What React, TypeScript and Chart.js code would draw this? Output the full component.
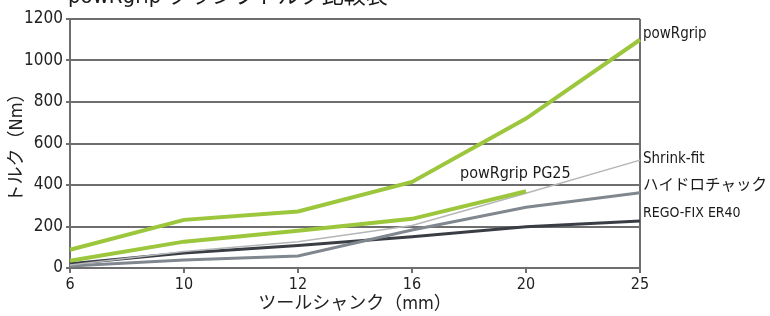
import React, { useEffect, useRef } from "react";
import { Chart, registerables } from "chart.js";

Chart.register(...registerables);

const categories = ["6", "10", "12", "16", "20", "25"];
const powRgrip = [88, 232, 272, 415, 720, 1100];
const powRgripPG25 = [35, 127, 180, 237, 370, null];
const shrinkFit = [15, 80, 127, 205, 360, 520];
const hydro = [10, 38, 58, 183, 293, 363];
const regoFix = [20, 72, 108, 151, 199, 226];
const seriesLabels = ["powRgrip", "powRgrip PG25", "Shrink-fit", "ハイドロチャック", "REGO-FIX ER40"];
const chartTitle = "powRgrip クランプトルク比較表";
const xTitle = "ツールシャンク（mm）";
const yTitle = "トルク（Nm）";

const FONT = "'Liberation Sans Narrow', 'DejaVu Sans Condensed', 'Noto Sans CJK JP', sans-serif";
const GRID = "#6e6e6e";

const labelPlugin = {
  id: "endLabels",
  afterDatasetsDraw(chart: any) {
    const { ctx } = chart;
    ctx.save();
    ctx.fillStyle = "#1a1a1a";
    ctx.textBaseline = "middle";
    ctx.textAlign = "left";
    const place = (dsIndex: number, idx: number, dx: number, dy: number, size: number) => {
      const el = chart.getDatasetMeta(dsIndex).data[idx];
      if (!el) return;
      ctx.font = `${size}px ${FONT}`;
      ctx.fillText(seriesLabels[dsIndex], el.x + dx, el.y + dy);
    };
    place(0, 5, 3, -6, 15);
    place(1, 4, -66, -17, 16);
    place(2, 5, 3, -1, 15);
    place(3, 5, 3, -7, 15.5);
    place(4, 5, 3, -8, 14);
    ctx.font = `22px ${FONT}`;
    ctx.textBaseline = "alphabetic";
    ctx.fillText(chartTitle, 68, 3);
    ctx.restore();
  },
};

export default function App() {
  const ref = useRef<HTMLCanvasElement | null>(null);
  useEffect(() => {
    document.body.style.margin = "0";
    const canvas = ref.current;
    if (!canvas) return;
    const chart = new Chart(canvas, {
      type: "line",
      data: {
        labels: categories,
        datasets: [
          { label: seriesLabels[0], data: powRgrip, borderColor: "#9cc63c", borderWidth: 4, pointRadius: 0, tension: 0 },
          { label: seriesLabels[1], data: powRgripPG25, borderColor: "#9cc63c", borderWidth: 4, pointRadius: 0, tension: 0 },
          { label: seriesLabels[2], data: shrinkFit, borderColor: "#b4b6b8", borderWidth: 1.5, pointRadius: 0, tension: 0 },
          { label: seriesLabels[3], data: hydro, borderColor: "#80878e", borderWidth: 3, pointRadius: 0, tension: 0 },
          { label: seriesLabels[4], data: regoFix, borderColor: "#3a3e44", borderWidth: 3, pointRadius: 0, tension: 0 },
        ],
      },
      options: {
        responsive: false,
        animation: false,
        layout: { padding: { top: 19, right: 130, left: 0, bottom: 0 } },
        plugins: { legend: { display: false }, tooltip: { enabled: false }, title: { display: false } },
        scales: {
          x: {
            type: "category",
            offset: false,
            afterFit: (s: any) => { s.height = 48; },
            grid: {
              color: (c: any) => (c.index === categories.length - 1 ? GRID : "rgba(0,0,0,0)"),
              tickColor: GRID,
              tickLength: 5,
              lineWidth: 2,
            },
            border: { color: GRID, width: 2 },
            ticks: { color: "#222", font: { family: FONT, size: 16 }, padding: 2, maxRotation: 0 },
            title: { display: true, text: xTitle, color: "#222", font: { family: FONT, size: 18 }, padding: { top: 0, bottom: 1 } },
          },
          y: {
            min: 0,
            max: 1200,
            afterFit: (s: any) => { s.width = 70; },
            grid: { color: GRID, lineWidth: 2, tickColor: GRID, tickLength: 4 },
            border: { color: GRID, width: 2 },
            ticks: {
              stepSize: 200,
              color: "#222",
              font: { family: FONT, size: 17 },
              padding: 3,
              callback: (v: any) => String(v),
            },
            title: { display: true, text: yTitle, color: "#222", font: { family: FONT, size: 18 }, padding: { top: 7, bottom: 0 } },
          },
        },
      },
      plugins: [labelPlugin],
    });
    return () => chart.destroy();
  }, []);
  return <canvas ref={ref} width={770} height={316} style={{ display: "block" }} />;
}
